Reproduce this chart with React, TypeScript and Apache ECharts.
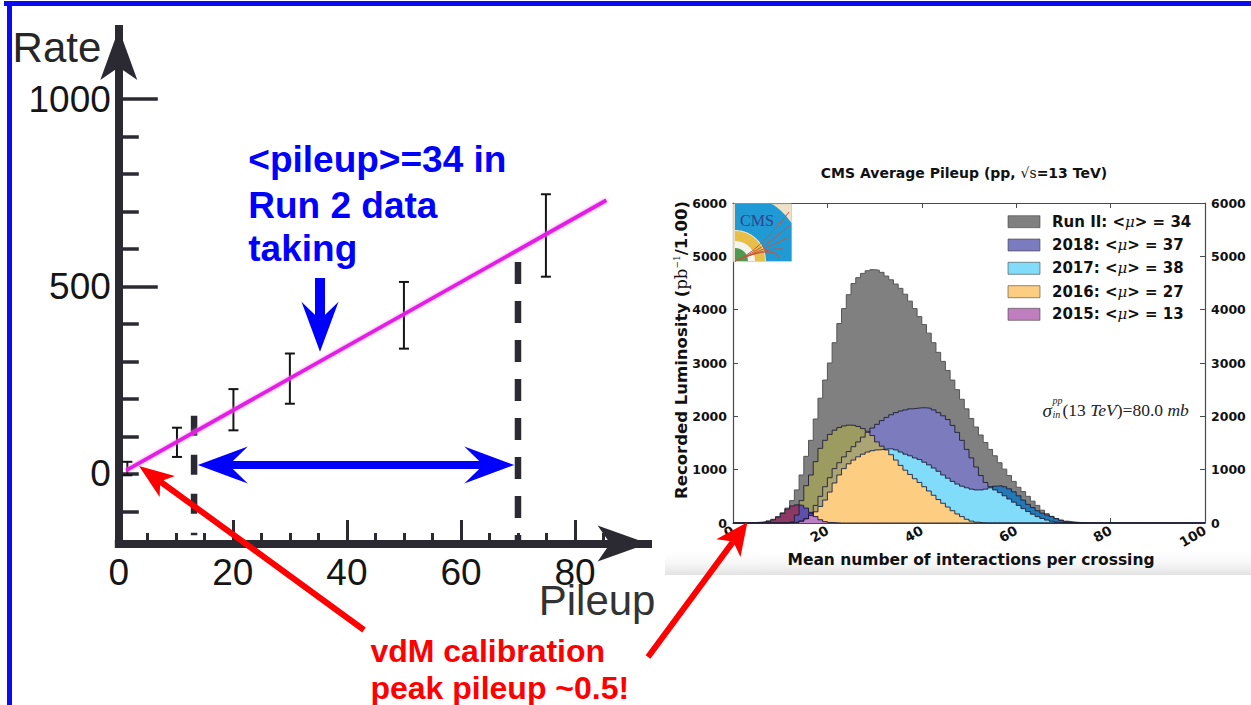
import React, { useEffect, useRef } from 'react';
import * as echarts from 'echarts';

// ---------- Left panel: trigger rate versus pileup ----------
const ratePileup = [1.5, 10.2, 20.1, 30, 50, 74.9];
const rateValue = [14, 84, 171, 254, 423, 636];
const rateError = [18, 39, 55, 67, 89, 110];
const fitPileup = [1.3, 85.5];
const fitRate = [9, 730];
const run2Low = 13.2; // lower edge of the Run 2 pileup range
const run2High = 70; // upper edge of the Run 2 pileup range
const run2LowSpan = [155, -164];
const run2HighSpan = [565, -186];
const rateLabelValues = [0, 500, 1000];
const rateMajorTicks = [500, 1000];
const rateMinorTicks = [-100, 0, 100, 200, 300, 400, 600, 700, 800, 900];
const pileupLabelValues = [0, 20, 40, 60, 80];
const pileupMajorTicks = [20, 40, 60, 80];
const pileupMinorTicks = [5, 10, 15, 25, 30, 35, 45, 50, 55, 65, 70, 75, 85];

// ---------- Right panel: recorded luminosity per pileup bin (pb^-1), unit bins from 0 ----------
const lumiRunII = [
  0, 0, 2, 5, 10, 15, 25, 40, 70, 120,
  190, 280, 420, 620, 900, 1250, 1550, 1950, 2340, 2680,
  3000, 3380, 3740, 4020, 4280, 4490, 4600, 4680, 4730, 4750,
  4740, 4700, 4630, 4560, 4480, 4400, 4290, 4160, 4020, 3870,
  3720, 3560, 3380, 3200, 3030, 2860, 2680, 2500, 2320, 2140,
  1960, 1800, 1650, 1510, 1380, 1260, 1130, 1010, 890, 780,
  670, 590, 500, 410, 330, 240, 175, 125, 85, 55,
  35, 22, 14, 8, 4, 2, 1,
];
const lumi2018 = [
  0, 0, 0, 0, 0, 0, 0, 0, 0, 0,
  0, 0, 4, 10, 30, 80, 180, 330, 500, 680,
  850, 1020, 1130, 1240, 1340, 1430, 1520, 1610, 1700, 1780,
  1850, 1920, 1980, 2030, 2070, 2100, 2120, 2140, 2150, 2160,
  2160, 2150, 2120, 2070, 2010, 1940, 1830, 1700, 1550, 1380,
  1220, 1050, 890, 760, 680, 620, 570, 510, 450, 390,
  330, 270, 215, 165, 120, 85, 55, 32, 16, 7,
  3,
];
const lumi2017 = [
  0, 0, 0, 0, 0, 0, 0, 0, 0, 0,
  2, 5, 10, 20, 40, 80, 140, 210, 310, 430,
  580, 750, 900, 1020, 1110, 1180, 1240, 1290, 1330, 1355,
  1370, 1380, 1390, 1390, 1370, 1330, 1290, 1260, 1220, 1190,
  1140, 1090, 1030, 970, 900, 840, 780, 730, 690, 660,
  635, 620, 620, 635, 660, 690, 700, 680, 640, 585,
  510, 430, 350, 290, 230, 185, 150, 120, 80, 50,
  25, 12, 5, 2,
];
const lumi2016 = [
  0, 0, 0, 0, 0, 0, 0, 0, 0, 0,
  0, 0, 20, 150, 420, 700, 900, 1150, 1400, 1550,
  1660, 1740, 1790, 1820, 1835, 1830, 1810, 1770, 1720, 1640,
  1520, 1440, 1370, 1280, 1180, 1080, 990, 910, 830, 760,
  680, 600, 520, 440, 370, 300, 230, 170, 120, 70,
  35, 15, 5,
];
const lumi2015 = [
  0, 0, 0, 0, 2, 5, 15, 30, 60, 110,
  180, 260, 320, 340, 330, 280, 200, 120, 60, 25,
  10, 4,
];

const legendNames = ['Run II', '2018', '2017', '2016', '2015'];
const legendMeans = [34, 37, 38, 27, 13];
const legendColors = ['#808080', '#7b7bbf', '#80dcf8', '#fdcd82', '#bf7fbf'];

// colours of the overlapping areas of the stepped histograms
const fillRunII = '#808080';
const fill2018 = '#7b7bbd';
const fill2016Only = '#9c9b60';
const fill2016With2018 = '#aba475';
const fill2017Only = '#2378b5';
const fill2017With2018 = '#80dcf8';
const fill2016With2017 = '#fdcd82';
const fill2015Only = '#8b3b63';
const fill2015With2016 = '#5d50ad';
const fill2015With2017 = '#bb7dc5';

const NBINS = 100;
const pad = (a: number[]) => Array.from({ length: NBINS }, (_, i) => a[i] ?? 0);
const overlap = (a: number[], b: number[]) => pad(a).map((v, i) => Math.min(v, pad(b)[i]));
const stepData = (a: number[]) => {
  const p = pad(a);
  return p.map((v, i) => [i, v]).concat([[NBINS, p[NBINS - 1]]]);
};
const plain = (v: number) => String(v);

const AXIS_DARK = '#2b2a33';
const SANS = '"Liberation Sans", Arial, Helvetica, sans-serif';
const DJV = '"DejaVu Sans", sans-serif';
const SERIF = '"DejaVu Serif", "Liberation Serif", serif';
const TSERIF = '"Liberation Serif", "DejaVu Serif", serif';

type Pt = [number, number];

function arrow(tip: Pt, tail: Pt, headLen: number, halfW: number, color: string, notch = 0.7) {
  const dx = tail[0] - tip[0];
  const dy = tail[1] - tip[1];
  const L = Math.hypot(dx, dy);
  const ux = dx / L, uy = dy / L;
  const nx = -uy, ny = ux;
  const b1: Pt = [tip[0] + ux * headLen + nx * halfW, tip[1] + uy * headLen + ny * halfW];
  const b2: Pt = [tip[0] + ux * headLen - nx * halfW, tip[1] + uy * headLen - ny * halfW];
  const nt: Pt = [tip[0] + ux * headLen * notch, tip[1] + uy * headLen * notch];
  return {
    head: { type: 'polygon', z: 100, shape: { points: [tip, b1, nt, b2] }, style: { fill: color } },
    notch: nt,
  };
}

function singleArrow(tip: Pt, tail: Pt, headLen: number, halfW: number, shaftW: number, color: string, notch = 0.7) {
  const a = arrow(tip, tail, headLen, halfW, color, notch);
  return [
    { type: 'line', z: 99, shape: { x1: a.notch[0], y1: a.notch[1], x2: tail[0], y2: tail[1] }, style: { stroke: color, lineWidth: shaftW } },
    a.head,
  ];
}

function doubleArrow(p1: Pt, p2: Pt, headLen: number, halfW: number, shaftW: number, color: string, notch = 0.7) {
  const a = arrow(p1, p2, headLen, halfW, color, notch);
  const b = arrow(p2, p1, headLen, halfW, color, notch);
  return [
    { type: 'line', z: 99, shape: { x1: a.notch[0], y1: a.notch[1], x2: b.notch[0], y2: b.notch[1] }, style: { stroke: color, lineWidth: shaftW } },
    a.head,
    b.head,
  ];
}

function text(x: number, y: number, str: string, font: string, fill: string, align = 'left', extra: any = {}) {
  return {
    type: 'text',
    x,
    y,
    z: 100,
    ...extra,
    style: { text: str, font, fill, align, textAlign: align, verticalAlign: 'middle', textVerticalAlign: 'middle' },
  };
}

// CMS detector logo in the corner of the right panel
function cmsLogo() {
  const x0 = 733.5, y0 = 204, w = 58, h = 57.5;
  const cx = 735, cy = 261;
  const ring = (r0: number, r: number) => {
    const pts: Pt[] = [];
    const n = 40;
    for (let i = 0; i <= n; i++) {
      const t = -Math.PI / 2 + (Math.PI / 2) * (i / n);
      pts.push([Math.min(x0 + w, cx + r * Math.cos(t)), Math.max(y0, cy + r * Math.sin(t))]);
    }
    for (let i = n; i >= 0; i--) {
      const t = -Math.PI / 2 + (Math.PI / 2) * (i / n);
      pts.push([cx + r0 * Math.cos(t), cy + r0 * Math.sin(t)]);
    }
    return pts;
  };
  const tracks: Pt[] = [[789, 212], [790, 225], [787, 238], [783, 249], [779, 257]];
  return [
    { type: 'rect', z: 50, shape: { x: x0, y: y0, width: w, height: h }, style: { fill: '#f0e0c4', stroke: '#d8d2c4', lineWidth: 1 } },
    { type: 'polygon', z: 51, shape: { points: ring(31, 68) }, style: { fill: '#1f9ad5' } },
    { type: 'sector', z: 51, shape: { cx, cy, r0: 20, r: 30, startAngle: -Math.PI / 2, endAngle: 0, clockwise: true }, style: { fill: '#e6be48' } },
    { type: 'sector', z: 51, shape: { cx, cy, r0: 13, r: 20, startAngle: -Math.PI / 2, endAngle: 0, clockwise: true }, style: { fill: '#f5f3ee' } },
    { type: 'sector', z: 51, shape: { cx, cy, r0: 0, r: 13, startAngle: -Math.PI / 2, endAngle: 0, clockwise: true }, style: { fill: '#4f9a52' } },
    ...tracks.map((e, i) => ({
      type: 'bezierCurve',
      z: 52,
      shape: { x1: cx, y1: cy, x2: e[0], y2: e[1], cpx1: cx + 22 + i * 4, cpy1: cy - 8 - i * 2 },
      style: { stroke: '#c5573f', lineWidth: 1, fill: 'none' },
    })),
    text(757, 220, 'CMS', `16px ${TSERIF}`, '#31418e', 'center', { z: 53 }),
  ];
}

export default function App() {
  const ref = useRef<HTMLDivElement>(null);

  useEffect(() => {
    if (!ref.current) return;
    const chart = echarts.init(ref.current, undefined, { renderer: 'svg' });

    const rightArea = (name: string, arr: number[], color: string) => ({
      type: 'line',
      name,
      xAxisIndex: 2,
      yAxisIndex: 2,
      data: stepData(arr),
      step: 'end',
      symbol: 'none',
      silent: true,
      lineStyle: { width: 0, opacity: 0 },
      areaStyle: { color, opacity: 1 },
    });
    const rightOutline = (name: string, arr: number[], color: string) => ({
      type: 'line',
      name,
      xAxisIndex: 2,
      yAxisIndex: 2,
      data: stepData(arr),
      step: 'end',
      symbol: 'none',
      silent: true,
      lineStyle: { width: 1, color },
    });

    const tickLabelR = { fontSize: 12.5, fontWeight: 'bold', fontFamily: DJV, color: '#111', formatter: plain };
    const frame = { show: true, lineStyle: { color: '#4a4a4a', width: 1.2 } };
    const tickR = { show: true, inside: true, length: 5, lineStyle: { color: '#4a4a4a', width: 1 } };

    const legendGraphics: any[] = [];
    const rowY = [221.7, 245, 268.3, 291.7, 314.3];
    legendNames.forEach((n, i) => {
      legendGraphics.push({
        type: 'rect',
        z: 60,
        shape: { x: 1008, y: rowY[i] - 6, width: 32, height: 12 },
        style: { fill: legendColors[i], stroke: 'rgba(60,60,60,0.7)', lineWidth: 0.8 },
      });
      legendGraphics.push({
        type: 'text',
        z: 60,
        x: 1052,
        y: rowY[i],
        style: {
          text: `{b|${n}: <}{m|μ}{b|> = ${legendMeans[i]}}`,
          verticalAlign: 'middle',
          textVerticalAlign: 'middle',
          rich: {
            b: { fontSize: 15, fontWeight: 'bold', fontFamily: DJV, fill: '#111' },
            m: { fontSize: 15, fontStyle: 'italic', fontFamily: SERIF, fill: '#111' },
          },
        },
      });
    });

    const option: any = {
      animation: false,
      backgroundColor: '#ffffff',
      grid: [
        { left: 118.8, top: 29, width: 529.2, height: 514.5 },
        { left: 733, top: 203, width: 472, height: 320 },
      ],
      xAxis: [
        {
          gridIndex: 0, type: 'value', min: 0, max: 92.8, position: 'bottom',
          axisLine: { show: true, onZero: false, symbol: ['none', 'arrow'], symbolSize: [27, 50.4], lineStyle: { color: AXIS_DARK, width: 8, cap: 'square' } },
          axisTick: { show: true, inside: true, length: 10.5, customValues: pileupMinorTicks, lineStyle: { color: AXIS_DARK, width: 3 } },
          axisLabel: { customValues: pileupLabelValues, margin: 10, fontSize: 37, fontFamily: SANS, color: '#151515', formatter: plain },
          splitLine: { show: false },
        },
        {
          gridIndex: 0, type: 'value', min: 0, max: 92.8, position: 'bottom',
          axisLine: { show: false, onZero: false },
          axisTick: { show: true, inside: true, length: 23.5, customValues: pileupMajorTicks, lineStyle: { color: AXIS_DARK, width: 3 } },
          axisLabel: { show: false },
          splitLine: { show: false },
        },
        {
          gridIndex: 1, type: 'value', min: 0, max: 100, interval: 20, position: 'bottom',
          axisLine: { ...frame, onZero: false },
          axisTick: tickR,
          axisLabel: { ...tickLabelR, fontSize: 13.5, rotate: 30, margin: 6 },
          splitLine: { show: false },
        },
        {
          gridIndex: 1, type: 'value', min: 0, max: 100, interval: 20, position: 'top',
          axisLine: { ...frame, onZero: false },
          axisTick: tickR,
          axisLabel: { show: false },
          splitLine: { show: false },
        },
      ],
      yAxis: [
        {
          gridIndex: 0, type: 'value', min: -186, max: 1187, position: 'left',
          axisLine: { show: true, onZero: false, symbol: ['none', 'arrow'], symbolSize: [27.75, 51], lineStyle: { color: AXIS_DARK, width: 8, cap: 'square' } },
          axisTick: { show: true, inside: true, length: 20, customValues: rateMinorTicks, lineStyle: { color: AXIS_DARK, width: 3.5 } },
          axisLabel: { customValues: rateLabelValues, margin: 8, fontSize: 37, fontFamily: SANS, color: '#151515', formatter: plain },
          splitLine: { show: false },
        },
        {
          gridIndex: 0, type: 'value', min: -186, max: 1187, position: 'left',
          axisLine: { show: false, onZero: false },
          axisTick: { show: true, inside: true, length: 39, customValues: rateMajorTicks, lineStyle: { color: AXIS_DARK, width: 3.5 } },
          axisLabel: { show: false },
          splitLine: { show: false },
        },
        {
          gridIndex: 1, type: 'value', min: 0, max: 6000, interval: 1000, position: 'left',
          axisLine: { ...frame, onZero: false },
          axisTick: tickR,
          axisLabel: { ...tickLabelR, margin: 6 },
          splitLine: { show: false },
        },
        {
          gridIndex: 1, type: 'value', min: 0, max: 6000, interval: 1000, position: 'right',
          axisLine: { ...frame, onZero: false },
          axisTick: tickR,
          axisLabel: { ...tickLabelR, margin: 6 },
          splitLine: { show: false },
        },
      ],
      series: [
        // ----- left panel -----
        {
          type: 'custom',
          name: 'rate',
          xAxisIndex: 0,
          yAxisIndex: 0,
          silent: true,
          z: 3,
          data: ratePileup.map((x, i) => [x, rateValue[i] - rateError[i], rateValue[i] + rateError[i]]),
          encode: { x: 0, y: [1, 2] },
          renderItem: (_p: any, api: any) => {
            const x = api.value(0);
            const lo = api.coord([x, api.value(1)]);
            const hi = api.coord([x, api.value(2)]);
            const c = 5;
            const st = { stroke: '#141414', lineWidth: 2 };
            return {
              type: 'group',
              children: [
                { type: 'line', shape: { x1: lo[0], y1: lo[1], x2: hi[0], y2: hi[1] }, style: st },
                { type: 'line', shape: { x1: hi[0] - c, y1: hi[1], x2: hi[0] + c, y2: hi[1] }, style: st },
                { type: 'line', shape: { x1: lo[0] - c, y1: lo[1], x2: lo[0] + c, y2: lo[1] }, style: st },
              ],
            };
          },
        },
        {
          type: 'line',
          name: 'fit',
          xAxisIndex: 0,
          yAxisIndex: 0,
          z: 4,
          silent: true,
          symbol: 'none',
          data: fitPileup.map((x, i) => [x, fitRate[i]]),
          lineStyle: { color: '#e41ee4', width: 3.8, shadowBlur: 3, shadowColor: 'rgba(240,120,240,0.9)' },
        },
        {
          type: 'line',
          name: 'run2 low',
          xAxisIndex: 0,
          yAxisIndex: 0,
          silent: true,
          symbol: 'none',
          data: run2LowSpan.map((v) => [run2Low, v]),
          lineStyle: { color: AXIS_DARK, width: 6.5, type: [20, 19], cap: 'butt' },
        },
        {
          type: 'line',
          name: 'run2 high',
          xAxisIndex: 0,
          yAxisIndex: 0,
          silent: true,
          symbol: 'none',
          data: run2HighSpan.map((v) => [run2High, v]),
          lineStyle: { color: AXIS_DARK, width: 6.5, type: [22, 17], cap: 'butt' },
        },
        // ----- right panel: painter's order of the overlapping histograms -----
        { ...rightArea('Run II', lumiRunII, fillRunII), lineStyle: { width: 1, color: '#555555' } },
        rightArea('2018', lumi2018, fill2018),
        rightArea('2016', lumi2016, fill2016Only),
        rightArea('2016∩2018', overlap(lumi2016, lumi2018), fill2016With2018),
        rightArea('2017', lumi2017, fill2017Only),
        rightArea('2017∩2018', overlap(lumi2017, lumi2018), fill2017With2018),
        rightArea('2016∩2017', overlap(lumi2016, lumi2017), fill2016With2017),
        rightArea('2015', lumi2015, fill2015Only),
        rightArea('2015∩2016', overlap(lumi2015, lumi2016), fill2015With2016),
        rightArea('2015∩2017', overlap(lumi2015, lumi2017), fill2015With2017),
        rightOutline('2018 edge', lumi2018, 'rgba(25,25,50,0.85)'),
        rightOutline('2017 edge', lumi2017, 'rgba(25,25,50,0.85)'),
        rightOutline('2016 edge', lumi2016, 'rgba(25,25,50,0.85)'),
        rightOutline('2015 edge', lumi2015, 'rgba(25,25,50,0.85)'),
      ],
      graphic: {
        elements: [
          // slide frame
          { type: 'rect', z: 100, shape: { x: 4, y: 1, width: 1247, height: 5 }, style: { fill: '#0b0bf2' } },
          { type: 'rect', z: 100, shape: { x: 7, y: 1, width: 5, height: 704 }, style: { fill: '#0b0bf2' } },
          // soft shade under the right panel
          {
            type: 'rect',
            z: -10,
            shape: { x: 665, y: 548, width: 586, height: 27 },
            style: {
              fill: new echarts.graphic.LinearGradient(0, 0, 0, 1, [
                { offset: 0, color: 'rgba(255,255,255,0)' },
                { offset: 1, color: '#e2e2e2' },
              ]),
            },
          },
          // left panel labels
          text(12.6, 47, 'Rate', `42px ${SANS}`, '#262626'),
          text(538.7, 600, 'Pileup', `42px ${SANS}`, '#333333'),
          text(248.3, 159, '<pileup>=34 in', `bold 37px ${SANS}`, '#0000ff'),
          text(248.3, 205, 'Run 2 data', `bold 37px ${SANS}`, '#0000ff'),
          text(248.3, 248.5, 'taking', `bold 37px ${SANS}`, '#0000ff'),
          ...singleArrow([320, 351.7], [320, 278], 50, 18.5, 10, '#0000ff', 0.64),
          ...doubleArrow([197.8, 465], [514.3, 465], 50, 18.5, 8, '#0000ff', 0.62),
          // red annotation
          text(370.4, 651, 'vdM calibration', `bold 32px ${SANS}`, '#ff0000'),
          text(370.4, 688, 'peak pileup ~0.5!', `bold 32px ${SANS}`, '#ff0000'),
          ...singleArrow([139, 466], [364, 630], 35, 13, 6, '#ff0000', 0.75),
          ...singleArrow([747.4, 522.3], [648, 657], 32, 15, 6, '#ff0000', 0.75),
          // right panel texts
          {
            type: 'text',
            z: 60,
            x: 964,
            y: 173,
            style: {
              text: '{a|CMS Average Pileup (pp, }{b|√s}{a|=13 TeV)}',
              align: 'center',
              textAlign: 'center',
              verticalAlign: 'middle',
              textVerticalAlign: 'middle',
              rich: {
                a: { fontSize: 14, fontWeight: 'bold', fontFamily: DJV, fill: '#111' },
                b: { fontSize: 14, fontFamily: SERIF, fill: '#111' },
              },
            },
          },
          text(971, 560, 'Mean number of interactions per crossing', `bold 15.5px ${DJV}`, '#111', 'center'),
          {
            type: 'text',
            z: 60,
            x: 681,
            y: 350,
            rotation: Math.PI / 2,
            style: {
              text: '{a|Recorded Luminosity (}{b|pb}{c|−1}{a|/1.00)}',
              align: 'center',
              textAlign: 'center',
              verticalAlign: 'middle',
              textVerticalAlign: 'middle',
              rich: {
                a: { fontSize: 16.5, fontWeight: 'bold', fontFamily: DJV, fill: '#111' },
                b: { fontSize: 16.5, fontFamily: SERIF, fill: '#111' },
                c: { fontSize: 9, fontFamily: SERIF, fill: '#111', verticalAlign: 'top', padding: [0, 0, 8, 0] },
              },
            },
          },
          text(1042.5, 410.5, 'σ', `italic 19px ${TSERIF}`, '#222'),
          text(1052.5, 400.5, 'pp', `italic 10px ${TSERIF}`, '#222'),
          text(1052.5, 414.5, 'in', `italic 10px ${TSERIF}`, '#222'),
          {
            type: 'text',
            z: 60,
            x: 1062.5,
            y: 409.5,
            style: {
              text: '{r|(13 }{i|TeV}{r|)=80.0 }{i|mb}',
              verticalAlign: 'middle',
              textVerticalAlign: 'middle',
              rich: {
                r: { fontSize: 17.5, fontFamily: TSERIF, fill: '#222' },
                i: { fontSize: 17.5, fontStyle: 'italic', fontFamily: TSERIF, fill: '#222' },
              },
            },
          },
          ...legendGraphics,
          ...cmsLogo(),
        ],
      },
    };

    chart.setOption(option);
    return () => chart.dispose();
  }, []);

  return (
    <div
      ref={ref}
      style={{ position: 'fixed', left: 0, top: 0, width: 1251, height: 705, background: '#ffffff' }}
    />
  );
}
